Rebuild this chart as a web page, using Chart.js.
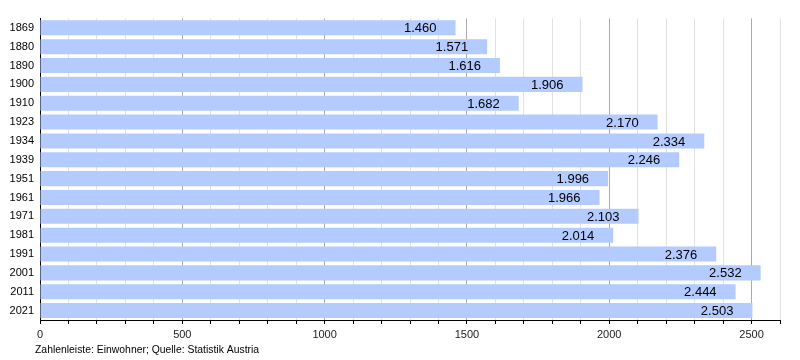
<!DOCTYPE html>
<html>
<head>
<meta charset="utf-8">
<script src="https://cdn.jsdelivr.net/npm/chart.js@4.4.1/dist/chart.umd.min.js"></script>
<style>
  html, body { margin: 0; padding: 0; background: #fff; }
  #wrap { width: 800px; height: 360px; position: relative; }
</style>
</head>
<body>
<div id="wrap"><canvas id="barChart"></canvas></div>
<script>
var years = ['1869', '1880', '1890', '1900', '1910', '1923', '1934', '1939', '1951', '1961', '1971', '1981', '1991', '2001', '2011', '2021']
var population = [1460, 1571, 1616, 1906, 1682, 2170, 2334, 2246, 1996, 1966, 2103, 2014, 2376, 2532, 2444, 2503]
var xTickLabels = [0, 500, 1000, 1500, 2000, 2500]
var caption = 'Zahlenleiste: Einwohner; Quelle: Statistik Austria'

var fontFam = '"Liberation Sans", Arial, Helvetica, sans-serif'

// german number format: 1.460
function fmt(v) {
	return String(v).replace(/\B(?=(\d{3})+(?!\d))/g, '.')
}

var valueLabels = {
	id: 'valueLabels',
	afterDatasetsDraw: function (chart) {
		var ctx = chart.ctx
		var meta = chart.getDatasetMeta(0)
		ctx.save()
		ctx.font = '13px ' + fontFam
		ctx.fillStyle = '#000'
		ctx.textAlign = 'right'
		ctx.textBaseline = 'middle'
		meta.data.forEach(function (bar, i) {
			ctx.fillText(fmt(population[i]), bar.x - 19, bar.y + 1)
		})
		// caption under the axis
		ctx.font = '10.4px ' + fontFam
		ctx.textAlign = 'left'
		ctx.textBaseline = 'alphabetic'
		ctx.fillText(caption, 35, 353)
		ctx.restore()
	}
}

var ctxB = document.getElementById('barChart').getContext('2d')
var myBarChart = new Chart(ctxB, {
	type: 'bar',
	data: {
		labels: years,
		datasets: [{
			data: population,
			backgroundColor: '#b3cbff',
			borderWidth: 0,
			barPercentage: 0.8,
			categoryPercentage: 1.0
		}]
	},
	options: {
		indexAxis: 'y',
		responsive: true,
		maintainAspectRatio: false,
		animation: false,
		layout: { padding: { top: 18.4, right: 20, left: 0, bottom: 0 } },
		plugins: {
			legend: { display: false },
			tooltip: { enabled: false }
		},
		scales: {
			x: {
				min: 0,
				max: 2600,
				afterFit: function (scale) { scale.height = 40 },
				ticks: {
					stepSize: 100,
					autoSkip: false,
					maxRotation: 0,
					color: '#222',
					padding: 4,
					font: { family: fontFam, size: 11 },
					callback: function (v) {
						return xTickLabels.indexOf(v) >= 0 ? String(v) : ''
					}
				},
				grid: {
					color: function (c) {
						return c.tick && c.tick.value % 500 === 0 ? '#aaaaaa' : '#e2e2e2'
					},
					tickColor: '#000',
					tickLength: 4,
					drawTicks: true
				},
				border: { color: '#000', width: 1 }
			},
			y: {
				afterFit: function (scale) { scale.width = 40 },
				ticks: {
					color: '#000',
					padding: 6,
					font: { family: fontFam, size: 11 }
				},
				grid: { display: false, drawTicks: false },
				border: { color: '#000', width: 1 }
			}
		}
	},
	plugins: [valueLabels]
})
</script>
</body>
</html>
